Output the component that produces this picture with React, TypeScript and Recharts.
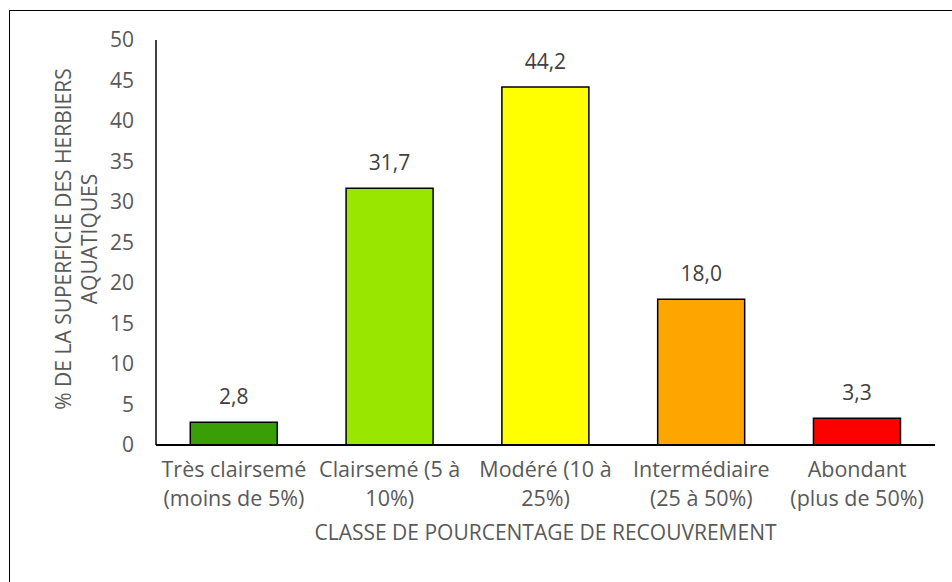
import { Bar, BarChart, Cell, LabelList, XAxis, YAxis } from "recharts";

const categories = [
  "Très clairsemé (moins de 5%)",
  "Clairsemé (5 à 10%)",
  "Modéré (10 à 25%)",
  "Intermédiaire (25 à 50%)",
  "Abondant (plus de 50%)",
];

// two-line tick labels, as in the original
const tickLines: Record<string, string[]> = {
  "Très clairsemé (moins de 5%)": ["Très clairsemé", "(moins de 5%)"],
  "Clairsemé (5 à 10%)": ["Clairsemé (5 à", "10%)"],
  "Modéré (10 à 25%)": ["Modéré (10 à", "25%)"],
  "Intermédiaire (25 à 50%)": ["Intermédiaire", "(25 à 50%)"],
  "Abondant (plus de 50%)": ["Abondant", "(plus de 50%)"],
};

const shares = [2.8, 31.7, 44.2, 18.0, 3.3];
const barColors = ["#3a9f07", "#99e600", "#ffff00", "#ffa500", "#ff0000"];
const yTicks = [0, 5, 10, 15, 20, 25, 30, 35, 40, 45, 50];

const data = categories.map((name, i) => ({ name, value: shares[i] }));

const FONT = "'Open Sans', sans-serif";
const GREY = "#595959";

function XTick({ x, y, payload }: any) {
  const lines = tickLines[payload.value] ?? [payload.value];
  return (
    <text
      x={x}
      y={y}
      textAnchor="middle"
      fill={GREY}
      fontFamily={FONT}
      fontSize={21.5}
    >
      {lines.map((l, i) => (
        <tspan key={i} x={x} dy={i === 0 ? 24 : 29}>
          {l}
        </tspan>
      ))}
    </text>
  );
}

function YTitle() {
  return (
    <g transform="translate(75, 239) rotate(-90)">
      <text textAnchor="middle" fill={GREY} fontFamily={FONT} fontSize={21}>
        <tspan x={0} y={-4}>
          % DE LA SUPERFICIE DES HERBIERS
        </tspan>
        <tspan x={0} y={22}>
          AQUATIQUES
        </tspan>
      </text>
    </g>
  );
}

export default function App() {
  return (
    <div
      style={{
        position: "absolute",
        left: 0,
        top: 0,
        width: 952,
        height: 582,
        background: "#fff",
        overflow: "hidden",
      }}
    >
      <div
        style={{
          position: "absolute",
          left: 9,
          top: 10,
          width: 1000,
          height: 700,
          borderTop: "1.5px solid #000",
          borderLeft: "1.5px solid #000",
        }}
      />
      <div style={{ position: "absolute", left: 0, top: 0 }}>
        <BarChart
          width={952}
          height={582}
          data={data}
          margin={{ top: 40, right: 17, bottom: 0, left: 0 }}
          barCategoryGap="22%"
        >
          <XAxis
            dataKey="name"
            height={137}
            tickLine={false}
            axisLine={{ stroke: "#000", strokeWidth: 2 }}
            tick={<XTick />}
            interval={0}
            label={{
              value: "CLASSE DE POURCENTAGE DE RECOUVREMENT",
              position: "insideBottom",
              offset: 42,
              fill: GREY,
              fontFamily: FONT,
              fontSize: 21,
            }}
          />
          <YAxis
            width={156}
            domain={[0, 50]}
            ticks={yTicks}
            tickLine={false}
            tickSize={0}
            tickMargin={22}
            axisLine={{ stroke: "#000", strokeWidth: 1.5 }}
            tick={{ fill: GREY, fontFamily: FONT, fontSize: 21 }}
          />
          <Bar
            dataKey="value"
            stroke="#000"
            strokeWidth={1.5}
            isAnimationActive={false}
          >
            {data.map((d, i) => (
              <Cell key={d.name} fill={barColors[i]} />
            ))}
            <LabelList
              dataKey="value"
              position="top"
              offset={18}
              fill="#404040"
              fontFamily={FONT}
              fontSize={21}
              formatter={(v: any) => Number(v).toFixed(1).replace(".", ",")}
            />
          </Bar>
          <YTitle />
        </BarChart>
      </div>
    </div>
  );
}
